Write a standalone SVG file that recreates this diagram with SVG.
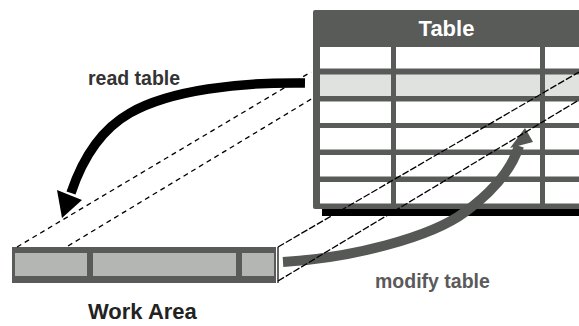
<svg xmlns="http://www.w3.org/2000/svg" width="579" height="326" viewBox="0 0 579 326">
  <defs>
    <style>
      .frame { fill: #585b58; }
      .cell { fill: #ffffff; }
      .hl { fill: #e0e2e0; }
      .wcell { fill: #b3b6b3; }
      .dash-back { fill: none; stroke: #000; stroke-width: 1.3; stroke-dasharray: 5 4; }
      .dash-front { fill: none; stroke: #000; stroke-width: 1.3; stroke-dasharray: 7 2; }
      .lbl { font-family: "Liberation Sans", Arial, sans-serif; font-weight: bold; }
    </style>
  </defs>
  <rect width="579" height="326" fill="#ffffff"/>

  <g id="table">
    <rect x="322" y="202" width="257" height="14" fill="#000"/>
    <rect class="frame" x="313" y="10" width="280" height="199" rx="2"/>
    <text class="lbl" x="446.5" y="36" font-size="22" fill="#ffffff" text-anchor="middle">Table</text>
    <g>
      <rect class="cell" x="320" y="47" width="71" height="21.5"/>
      <rect class="cell" x="396" y="47" width="144" height="21.5"/>
      <rect class="cell" x="545" y="47" width="40" height="21.5"/>
      <rect class="hl" x="320" y="74.5" width="71" height="21.5"/>
      <rect class="hl" x="396" y="74.5" width="144" height="21.5"/>
      <rect class="hl" x="545" y="74.5" width="40" height="21.5"/>
      <rect class="cell" x="320" y="101.5" width="71" height="21.5"/>
      <rect class="cell" x="396" y="101.5" width="144" height="21.5"/>
      <rect class="cell" x="545" y="101.5" width="40" height="21.5"/>
      <rect class="cell" x="320" y="128" width="71" height="21.5"/>
      <rect class="cell" x="396" y="128" width="144" height="21.5"/>
      <rect class="cell" x="545" y="128" width="40" height="21.5"/>
      <rect class="cell" x="320" y="155" width="71" height="21.5"/>
      <rect class="cell" x="396" y="155" width="144" height="21.5"/>
      <rect class="cell" x="545" y="155" width="40" height="21.5"/>
      <rect class="cell" x="320" y="182" width="71" height="21.5"/>
      <rect class="cell" x="396" y="182" width="144" height="21.5"/>
      <rect class="cell" x="545" y="182" width="40" height="21.5"/>
    </g>
  </g>

  <g id="work-area">
    <rect class="frame" x="12" y="247" width="264" height="36"/>
    <rect class="wcell" x="15" y="253" width="72" height="23"/>
    <rect class="wcell" x="93" y="253" width="143" height="23"/>
    <rect class="wcell" x="242" y="253" width="32" height="23"/>
    <line x1="278" y1="247" x2="278" y2="283" stroke="#000" stroke-width="1.2"/>
    <text class="lbl" x="88" y="319" font-size="22" fill="#222">Work Area</text>
  </g>

  <g id="connectors">
    <g id="modify-arrow">
      <path d="M283,262 C350,258 430,238 465,212 C495,190 512,168 519,146" fill="none" stroke="#555855" stroke-width="10"/>
      <polygon points="525,128 510,148 533,142" fill="#555855"/>
    </g>
    <line class="dash-back" x1="17" y1="247" x2="311" y2="72"/>
    <line class="dash-back" x1="68" y1="246" x2="313" y2="98"/>
    <line class="dash-front" x1="278" y1="247" x2="579" y2="72"/>
    <line class="dash-front" x1="278" y1="281" x2="579" y2="100"/>
    <g id="read-arrow">
      <path d="M305,83 C240,82 170,90 130,113 C100,130 82,160 71,193" fill="none" stroke="#000" stroke-width="9.5"/>
      <polygon points="62,218 57,190 82,200" fill="#000"/>
    </g>
  </g>

  <text class="lbl" x="88" y="85" font-size="19.5" fill="#333">read table</text>
  <text class="lbl" x="375" y="288" font-size="19.5" fill="#5a5a5a">modify table</text>
</svg>
